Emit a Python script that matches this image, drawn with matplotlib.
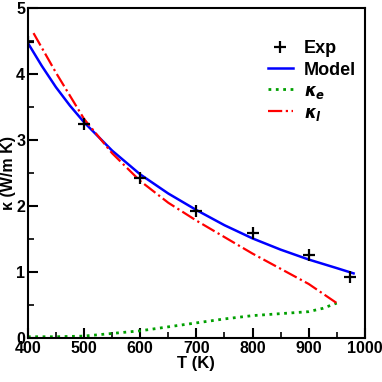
import matplotlib
matplotlib.use("Agg")
import matplotlib.pyplot as plt
from matplotlib.ticker import MultipleLocator

# experimental points
exp_T = [400, 500, 600, 700, 800, 900, 973]
exp_k = [4.48, 3.24, 2.42, 1.92, 1.59, 1.26, 0.92]

# model (total)
model_T = [400, 425, 450, 475, 500, 550, 600, 650, 700, 750, 800, 850, 900, 950, 980]
model_k = [4.47, 4.12, 3.80, 3.52, 3.27, 2.84, 2.48, 2.19, 1.94, 1.71, 1.51, 1.34, 1.19, 1.06, 0.98]

# electronic part
ke_T = [400, 450, 500, 550, 600, 650, 700, 750, 800, 850, 900, 925, 950]
ke_k = [0.02, 0.02, 0.03, 0.07, 0.11, 0.17, 0.23, 0.29, 0.34, 0.37, 0.40, 0.45, 0.53]

# lattice part
kl_T = [410, 450, 500, 550, 600, 650, 700, 750, 800, 850, 900, 950]
kl_k = [4.62, 4.02, 3.32, 2.80, 2.38, 2.05, 1.78, 1.53, 1.28, 1.05, 0.82, 0.53]

plt.rcParams['font.family'] = ['Liberation Sans', 'DejaVu Sans']
plt.rcParams['font.weight'] = 'bold'

fig = plt.figure(figsize=(3.82, 3.82), dpi=100)
ax = fig.add_axes([0.073, 0.115, 0.882, 0.864])

ax.plot(exp_T, exp_k, '+', color='black', ms=8, mew=1.6, label='Exp', zorder=5)
ax.plot(model_T, model_k, '-', color='#0000ff', lw=1.8, label='Model')
ax.plot(ke_T, ke_k, ':', color='#00a000', lw=2.0, label=r'$\kappa_e$')
ax.plot(kl_T, kl_k, '-.', color='#ff0000', lw=1.6, label=r'$\kappa_l$')

ax.set_xlim(400, 1000)
ax.set_ylim(0, 5)
ax.xaxis.set_major_locator(MultipleLocator(100))
ax.xaxis.set_minor_locator(MultipleLocator(50))
ax.yaxis.set_major_locator(MultipleLocator(1))
ax.yaxis.set_minor_locator(MultipleLocator(0.5))
ax.tick_params(which='major', direction='in', length=7, width=1.5, labelsize=11.5, pad=2)
ax.tick_params(which='minor', direction='in', length=4, width=1.2)
for s in ax.spines.values():
    s.set_linewidth(1.5)

ax.set_xlabel('T (K)', fontsize=12, fontweight='bold', labelpad=0)
ax.set_ylabel('κ (W/m K)', fontsize=11.5, fontweight='bold', va='center')
ax.yaxis.set_label_coords(-0.058, 0.5)

leg = ax.legend(loc='upper left', bbox_to_anchor=(0.69, 0.925), frameon=False, fontsize=13,
                handlelength=1.4, handletextpad=0.6, labelspacing=0.25, borderaxespad=0)
for t in leg.get_texts()[2:]:
    t.set_fontsize(12)

fig.savefig('out.png', dpi=100)
